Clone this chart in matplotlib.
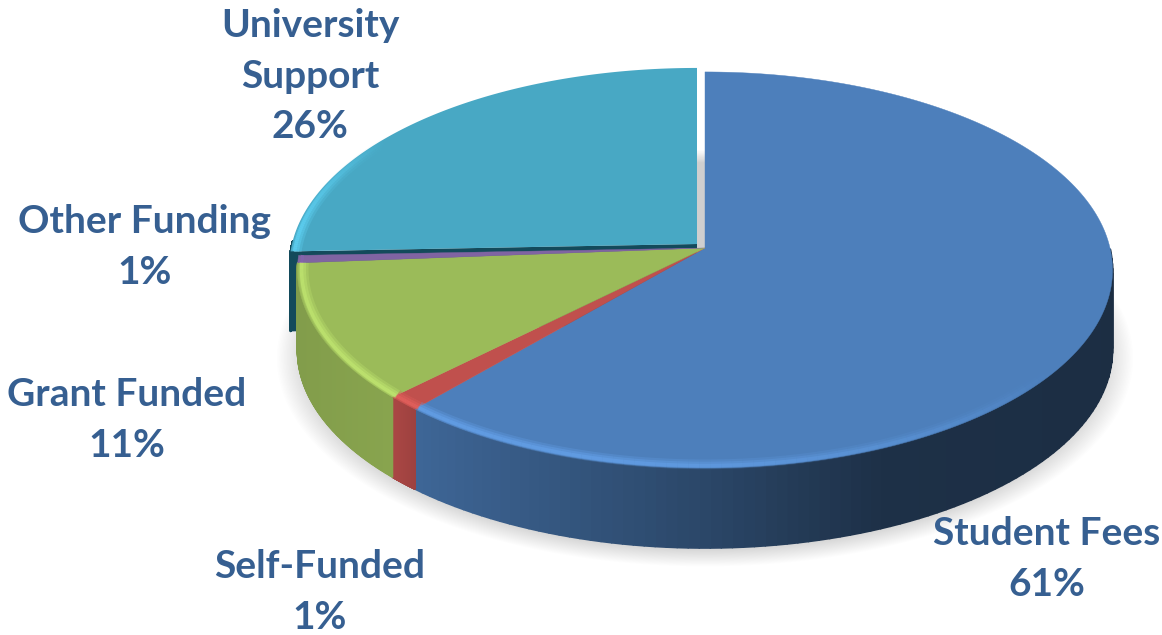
import numpy as np
import matplotlib
matplotlib.use("Agg")
import matplotlib.pyplot as plt
from matplotlib.collections import LineCollection, PolyCollection
from matplotlib.colors import to_rgb

labels = ["Student Fees", "Self-Funded", "Grant Funded", "Other Funding", "University\nSupport"]
values = [61.4, 1.2, 11.2, 0.6, 25.6]
colors = ["#4d7fbb", "#c0504d", "#9bbb59", "#8064a2", "#48a8c4"]
label_pos = [(1047, 559), (320, 592), (127, 420), (145, 247), (310, 76)]

TEXT_COLOR = "#365f91"
APEX = np.array([705.0, 248.0])
RX, RY, PERSP = 405.0, 195.6, 0.111
DEPTH = 80.0
TEAL_SHIFT = np.array([-8.0, -4.0])


def project(theta, r=1.0, offset=(0, 0)):
    # theta is clockwise from 12 o'clock, in degrees
    t = np.radians(theta)
    u, v = r * np.sin(t), r * np.cos(t)
    w = 1 + PERSP * v
    x = APEX[0] + RX * u / w + offset[0]
    y = APEX[1] - RY * v / w + offset[1]
    return x, y


def wedge_xy(start, end, offset=(0, 0)):
    th = np.linspace(start, end, 200)
    x, y = project(th, offset=offset)
    x = np.r_[APEX[0] + offset[0], x]
    y = np.r_[APEX[1] + offset[1], y]
    return x, y


def draw_shadow(ax):
    for s in np.linspace(1.05, 0.97, 24):
        x, y = project(np.linspace(0, 360, 300), r=s, offset=(0, 86))
        ax.fill(x, y, color="black", alpha=0.0075, lw=0, zorder=1)


def draw_wall(ax, start, end, color, offset=(0, 0), flat=None, zorder=2):
    th = np.linspace(start, end, 160)
    x, y = project(th, offset=offset)
    polys, cols = [], []
    base = np.array(to_rgb(color))
    for i in range(len(th) - 1):
        if y[i] < APEX[1] + offset[1] and flat is None:
            continue
        polys.append([(x[i], y[i]), (x[i + 1], y[i + 1]),
                      (x[i + 1], y[i + 1] + DEPTH), (x[i], y[i] + DEPTH)])
        if flat is not None:
            cols.append(to_rgb(flat))
        else:
            xm = (x[i] + x[i + 1]) / 2
            cols.append(base * np.interp(xm, [300, 395, 420, 700, 880, 1113],
                                         [0.84, 0.88, 0.80, 0.56, 0.38, 0.36]))
    pc = PolyCollection(polys, facecolors=cols, edgecolors=cols, linewidths=1.2, zorder=zorder)
    ax.add_collection(pc)


def draw_rim(ax, start, end, color, strength, offset=(0, 0), zorder=5):
    # soft highlight along the top edge, kept saturated
    th = np.linspace(start, end, 160)
    base = np.array(to_rgb(color))
    light = np.clip(base * 1.2 + 0.03, 0, 1)
    for r, lw, a in [(0.985, 7, 0.3), (0.987, 4.5, 0.45), (0.99, 2.5, 0.65)]:
        x, y = project(th, r=r, offset=offset)
        segs, cols = [], []
        for i in range(len(th) - 1):
            al = a * strength((th[i] + th[i + 1]) / 2)
            if al <= 0:
                continue
            segs.append([(x[i], y[i]), (x[i + 1], y[i + 1])])
            cols.append((*light, al))
        if segs:
            ax.add_collection(LineCollection(segs, colors=cols, linewidths=lw,
                                             capstyle="butt", zorder=zorder))


def lower_strength(th):
    return np.clip((th - 125) / 70, 0, 1)


def teal_strength(th):
    return np.clip((305 - th) / 30, 0, 1)


def main():
    fig = plt.figure(figsize=(11.62, 6.35), dpi=100, facecolor="white")
    ax = fig.add_axes([0, 0, 1, 1])
    ax.set_xlim(0, 1162)
    ax.set_ylim(635, 0)
    ax.axis("off")

    draw_shadow(ax)

    edges = np.r_[0, np.cumsum(values)] * 360.0 / sum(values)
    dark_teal = "#134a5b"

    # university slice sits slightly out from the rest, so it goes first
    s, e = edges[4], edges[5]
    draw_wall(ax, s, s + 3, colors[4], offset=TEAL_SHIFT, flat=dark_teal, zorder=2)
    cx, cy = project(s, offset=TEAL_SHIFT)
    ax.fill([APEX[0] + TEAL_SHIFT[0], cx, cx, APEX[0] + TEAL_SHIFT[0]],
            [APEX[1] + TEAL_SHIFT[1], cy, cy + DEPTH, APEX[1] + TEAL_SHIFT[1] + DEPTH],
            color=dark_teal, lw=0, zorder=2)
    x, y = wedge_xy(s, e, offset=TEAL_SHIFT)
    ax.fill(x, y, color=colors[4], lw=0, zorder=3)
    draw_rim(ax, s, e, colors[4], teal_strength, offset=TEAL_SHIFT, zorder=3)

    # other funding is too thin to show a side wall
    for i in range(3):
        s, e = edges[i], edges[i + 1]
        draw_wall(ax, s, e, colors[i], zorder=4)
    for i in range(4):
        s, e = edges[i], edges[i + 1]
        x, y = wedge_xy(s, e)
        ax.fill(x, y, color=colors[i], lw=0.3, zorder=5)
        draw_rim(ax, s, e, colors[i], lower_strength, zorder=6)

    total = sum(values)
    for name, val, (px, py) in zip(labels, values, label_pos):
        pct = round(val / total * 100)
        ax.text(px, py, f"{name}\n{pct}%", ha="center", va="center", color=TEXT_COLOR,
                fontsize=28, fontweight="bold", family="Lato", linespacing=1.55, zorder=10)

    fig.savefig("out.png", dpi=100, facecolor="white")
    plt.close(fig)


if __name__ == "__main__":
    main()
